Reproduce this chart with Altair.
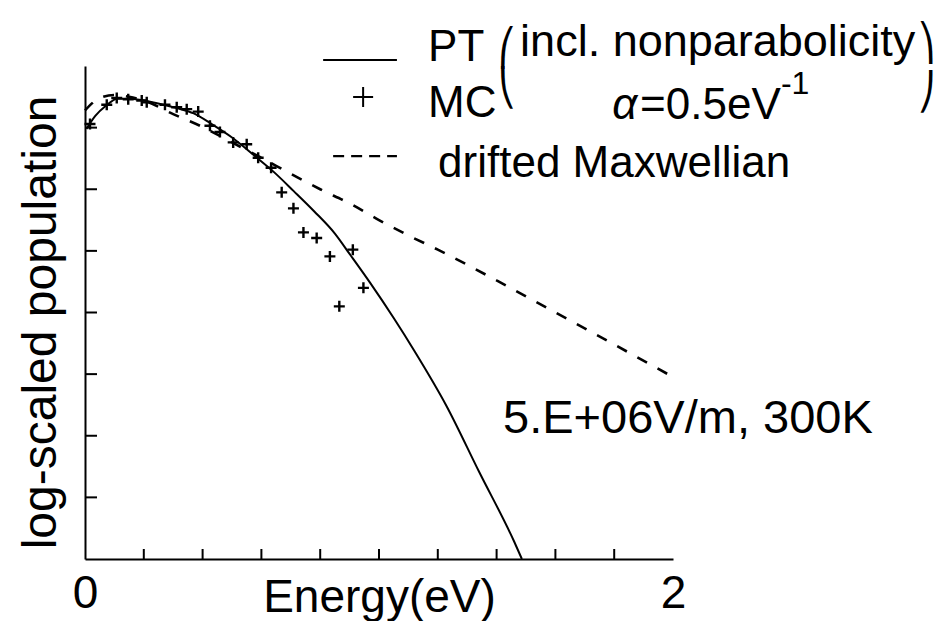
import altair as alt
import pandas as pd

# ---------------- data ----------------
PT_E = [0.005, 0.035, 0.07, 0.11, 0.15, 0.20, 0.26, 0.31, 0.37, 0.43, 0.50, 0.58,
        0.64, 0.71, 0.78, 0.85, 0.90, 0.97, 1.05, 1.12, 1.23, 1.34, 1.46, 1.486]
PT_D = [6.98, 7.19, 7.35, 7.47, 7.47, 7.44, 7.38, 7.32, 7.23, 7.06, 6.84, 6.53,
        6.29, 5.97, 5.64, 5.28, 4.95, 4.48, 3.91, 3.38, 2.48, 1.42, 0.28, 0.0]

DM_E = [0.0, 0.05, 0.10, 0.15, 0.20, 0.30, 0.40, 0.50, 0.60, 0.70, 0.80, 0.90,
        1.00, 1.10, 1.20, 1.40, 1.60, 1.80, 1.99]
DM_D = [7.28, 7.48, 7.53, 7.50, 7.44, 7.22, 7.01, 6.76, 6.51, 6.25, 6.00, 5.77,
        5.50, 5.25, 5.02, 4.52, 4.00, 3.48, 2.98]

MC_E = [0.017, 0.074, 0.108, 0.147, 0.193, 0.210, 0.272, 0.312, 0.346, 0.385,
        0.425, 0.459, 0.504, 0.550, 0.589, 0.633, 0.669, 0.709, 0.743, 0.788,
        0.833, 0.911, 0.865, 0.947]
MC_D = [7.06, 7.37, 7.48, 7.46, 7.44, 7.41, 7.37, 7.33, 7.30, 7.26,
        7.03, 6.93, 6.76, 6.73, 6.51, 6.35, 5.95, 5.69, 5.30, 5.21,
        4.91, 5.02, 4.10, 4.40]

X_TICKS = [0.2, 0.4, 0.6, 0.8, 1.0, 1.2, 1.4, 1.6, 1.8]
Y_TICKS = [1, 2, 3, 4, 5, 6, 7]
X_LABELS = [0, 2]

X_TITLE = "Energy(eV)"
Y_TITLE = "log-scaled population"

# legend / annotation texts and their anchor positions (data units)
LEG_TEXTS = ["PT", "MC", "=0.5eV", "drifted Maxwellian"]
LEG_TX = [1.167, 1.167, 1.888, 1.201]
LEG_TY = [8.08, 7.17, 7.14, 6.195]
INCL_TEXT = "incl. nonparabolicity"
INCL_POS = (1.480, 8.163)
ALPHA_POS = (1.793, 7.14)
SUP_POS = (2.367, 7.55)
NOTE_TEXT = "5.E+06V/m, 300K"
NOTE_POS = (1.422, 2.05)
SOLID_SAMPLE = ([0.810, 1.061], [8.098, 8.098])
DASH_SAMPLE = ([0.844, 1.061], [6.537, 6.537])
PLUS_POS = (0.946, 7.496)
LPAREN = (1.435, [8.27, 7.63])
RPAREN = (2.862, [8.36, 7.56])

FONT = "Liberation Sans"
W, H = 588, 493

xs = alt.Scale(domain=[0, 2], nice=False, zero=False)
ys = alt.Scale(domain=[0, 8], nice=False, zero=False)

x_axis = alt.Axis(values=X_LABELS, format="d", ticks=False, tickSize=0, grid=False,
                  labelFontSize=46, labelFont=FONT, labelColor="black",
                  labelBaseline="alphabetic", labelPadding=48, labelFlush=False,
                  labelOverlap=False, domainColor="black", domainWidth=2,
                  titleFontSize=46, titleFont=FONT,
                  titleFontWeight="normal", titleColor="black",
                  titleBaseline="alphabetic", titleY=52)
y_axis = alt.Axis(labels=False, ticks=False, tickSize=0, grid=False,
                  domainColor="black", domainWidth=2,
                  titleFontSize=48, titleFont=FONT,
                  titleFontWeight="normal", titleColor="black",
                  titleAngle=270, titleBaseline="alphabetic", titleAlign="center",
                  titleX=-30, titleY=256)


def X(field="E"):
    return alt.X(f"{field}:Q", scale=xs, axis=x_axis, title=X_TITLE)


def Y(field="D"):
    return alt.Y(f"{field}:Q", scale=ys, axis=y_axis, title=Y_TITLE)


pt_df = pd.DataFrame({"E": PT_E, "D": PT_D})
dm_df = pd.DataFrame({"E": DM_E, "D": DM_D})
mc_df = pd.DataFrame({"E": MC_E, "D": MC_D})

pt = alt.Chart(pt_df).mark_line(color="black", strokeWidth=2, interpolate="monotone").encode(
    x=X(), y=Y())
dm = alt.Chart(dm_df).mark_line(color="black", strokeWidth=2.6, strokeDash=[11, 12],
                                interpolate="monotone").encode(x=X(), y=Y())

CROSS = "M-1,0L1,0M0,-1L0,1"
mc = alt.Chart(mc_df).mark_point(shape=CROSS, filled=False, color="black",
                                 strokeWidth=2.4, size=121, opacity=1).encode(x=X(), y=Y())

xt = alt.Chart(pd.DataFrame({"E": X_TICKS})).mark_rule(color="black", strokeWidth=2).encode(
    x=X(), y=alt.value(H), y2=alt.value(H - 10))
yt = alt.Chart(pd.DataFrame({"D": Y_TICKS})).mark_rule(color="black", strokeWidth=2).encode(
    y=Y(), x=alt.value(0), x2=alt.value(12))


def text_layer(texts, xsv, ysv, size, font=FONT, align="left", baseline="alphabetic", **kw):
    df = pd.DataFrame({"t": texts, "E": xsv, "D": ysv})
    return alt.Chart(df).mark_text(font=font, fontSize=size, color="black",
                                   align=align, baseline=baseline, **kw).encode(
        x=X(), y=Y(), text="t:N")


leg = text_layer(LEG_TEXTS, LEG_TX, LEG_TY, 44)
incl = text_layer([INCL_TEXT], [INCL_POS[0]], [INCL_POS[1]], 45)
alpha = text_layer(["α"], [ALPHA_POS[0]], [ALPHA_POS[1]], 44, fontStyle="italic")
sup = text_layer(["-1"], [SUP_POS[0]], [SUP_POS[1]], 32)
note = text_layer([NOTE_TEXT], [NOTE_POS[0]], [NOTE_POS[1]], 47)

lp = text_layer(["⎛", "⎝"], [LPAREN[0]] * 2, LPAREN[1], 36, font="DejaVu Sans",
                align="center", baseline="middle")
rp = text_layer(["⎞", "⎠"], [RPAREN[0]] * 2, RPAREN[1], 36, font="DejaVu Sans",
                align="center", baseline="middle")

solid_s = alt.Chart(pd.DataFrame({"E": SOLID_SAMPLE[0], "D": SOLID_SAMPLE[1]})).mark_line(
    color="black", strokeWidth=2).encode(x=X(), y=Y())
dash_s = alt.Chart(pd.DataFrame({"E": DASH_SAMPLE[0], "D": DASH_SAMPLE[1]})).mark_line(
    color="black", strokeWidth=2.4, strokeDash=[11, 7]).encode(x=X(), y=Y())
plus = alt.Chart(pd.DataFrame({"E": [PLUS_POS[0]], "D": [PLUS_POS[1]]})).mark_point(
    shape=CROSS, filled=False, color="black", strokeWidth=2, size=400, opacity=1).encode(
    x=X(), y=Y())

chart = alt.layer(pt, dm, mc, xt, yt, leg, incl, alpha, sup, note, lp, rp,
                  solid_s, dash_s, plus).properties(
    width=W, height=H,
    padding={"left": 77, "top": 58, "right": 268, "bottom": 62},
    autosize=alt.AutoSizeParams(type="none"),
    background="white",
).configure_view(stroke=None)

chart.save("out.html", embed_options={"renderer": "svg", "actions": False})
